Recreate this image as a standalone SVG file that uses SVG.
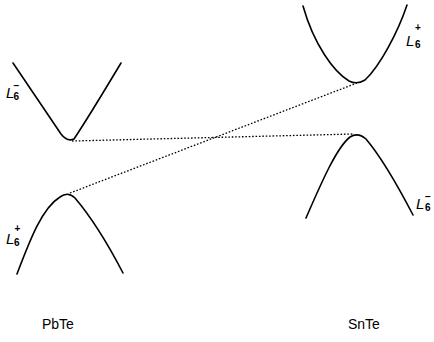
<svg xmlns="http://www.w3.org/2000/svg" width="434" height="342" viewBox="0 0 434 342">
<style>
.band{fill:none;stroke:#000;stroke-width:1.6;stroke-linecap:round;stroke-linejoin:round}
.dot{fill:none;stroke:#000;stroke-width:1.3;stroke-dasharray:1.6 1.8}
.L{font-family:"Liberation Sans",Arial,sans-serif;font-style:italic;font-size:15px;fill:#000}
.s{font-family:"Liberation Sans",Arial,sans-serif;font-size:10px;font-weight:bold;fill:#000}
.name{font-family:"Liberation Sans",Arial,sans-serif;font-size:14px;fill:#000}
</style>
<rect width="434" height="342" fill="#fff"/>
<g id="pbte-conduction">
<path class="band" d="M13,63 C28,85 48,115 61,134 Q67,142 74,139 C88,118 106,88 121,63"/>
<text class="L" x="6" y="98">L</text><text class="s" x="13.5" y="100">6</text><text class="s" x="13.5" y="89">−</text>
</g>
<g id="pbte-valence">
<path class="band" d="M17,274 C30,240 42,208 60,197 Q68,191 75,198 C92,218 110,248 123,273"/>
<text class="L" x="6" y="244">L</text><text class="s" x="14" y="246">6</text><text class="s" x="14.5" y="232">+</text>
</g>
<g id="snte-conduction">
<path class="band" d="M303,6 C314,45 334,72 349,81 Q357,85 365,80 C380,66 398,32 407,5"/>
<text class="L" x="406" y="46">L</text><text class="s" x="415" y="48">6</text><text class="s" x="415" y="31">+</text>
</g>
<g id="snte-valence">
<path class="band" d="M306,218 C320,186 336,148 350,137 Q358,132 366,139 C382,158 400,190 413,215"/>
<text class="L" x="416" y="209">L</text><text class="s" x="425" y="211">6</text><text class="s" x="425" y="200">−</text>
</g>
<g id="connectors">
<line class="dot" x1="72" y1="141" x2="353" y2="134"/>
<line class="dot" x1="70" y1="193" x2="357" y2="83"/>
</g>
<g id="labels">
<text class="name" x="42" y="329">PbTe</text>
<text class="name" x="348" y="329">SnTe</text>
</g>
</svg>
